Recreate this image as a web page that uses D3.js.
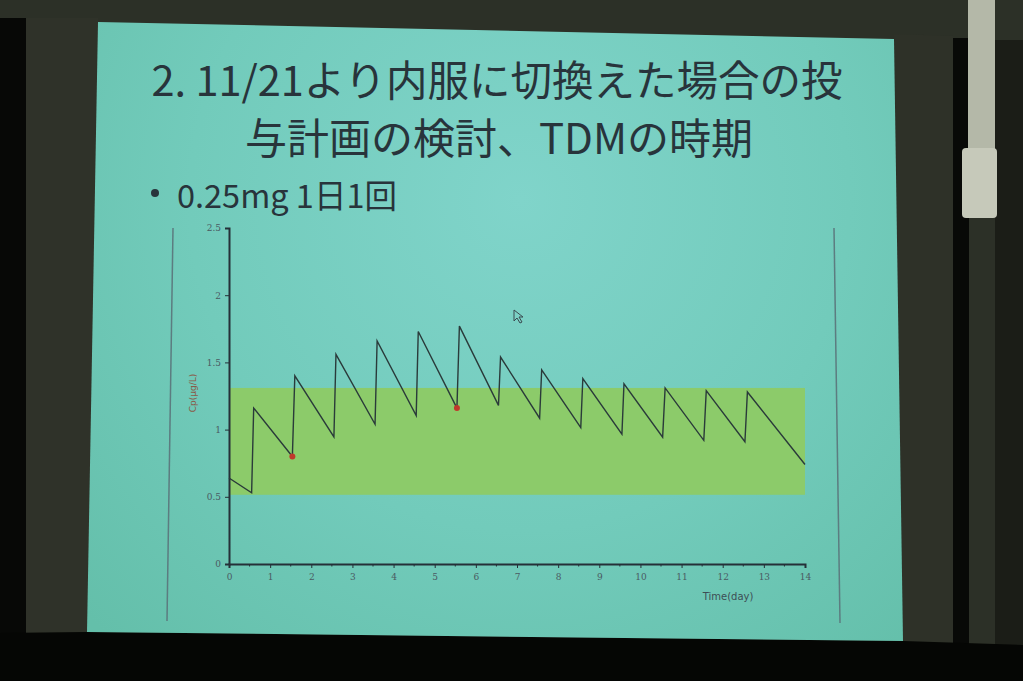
<!DOCTYPE html>
<html><head><meta charset="utf-8">
<script src="https://cdn.jsdelivr.net/npm/d3@7"></script>
<style>html,body{margin:0;padding:0;background:#23261f;}svg{display:block;}</style>
</head><body>
<script>
// ---- data ----
const titleLines = ["2. 11/21より内服に切換えた場合の投", "与計画の検討、TDMの時期"];
const bulletText = "0.25mg 1日1回";
const times = [0, 0.55, 0.6, 1.54, 1.6, 2.55, 2.6, 3.55, 3.6, 4.55, 4.6, 5.54, 5.6, 6.55, 6.6,
               7.55, 7.6, 8.55, 8.6, 9.55, 9.6, 10.54, 10.6, 11.54, 11.6, 12.54, 12.6, 14];
const conc  = [0.64, 0.53, 1.16, 0.80, 1.40, 0.945, 1.56, 1.04, 1.66, 1.105, 1.73, 1.16, 1.77, 1.18, 1.54,
               1.085, 1.445, 1.015, 1.38, 0.966, 1.34, 0.944, 1.31, 0.92, 1.29, 0.91, 1.28, 0.74];
const tdmTimes = [1.54, 5.54];
const tdmConc  = [0.80, 1.16];
const rangeLow = 0.515, rangeHigh = 1.31;
const xTicks = [0,1,2,3,4,5,6,7,8,9,10,11,12,13,14];
const yTicks = [0,0.5,1,1.5,2,2.5];
const xLabel = "Time(day)", yLabel = "Cp(μg/L)";

const W = 1023, H = 681;
const svg = d3.select("body").append("svg").attr("width", W).attr("height", H);
const defs = svg.append("defs");
const rg = defs.append("radialGradient").attr("id","slideGrad")
  .attr("gradientUnits","userSpaceOnUse").attr("cx",520).attr("cy",200).attr("r",600);
rg.append("stop").attr("offset","0%").attr("stop-color","#80d4ca");
rg.append("stop").attr("offset","55%").attr("stop-color","#72cbbb");
rg.append("stop").attr("offset","100%").attr("stop-color","#64bfaa");

// room background
svg.append("rect").attr("width",W).attr("height",H).attr("fill","#2c3027");
svg.append("rect").attr("x",0).attr("y",18).attr("width",26).attr("height",H-18).attr("fill","#070806");
svg.append("polygon").attr("points","26,18 98,18 98,22 87,632 26,633").attr("fill","#2f3229");
svg.append("polygon").attr("points","894,34 953,36 953,642 903,642").attr("fill","#2e3128");
svg.append("rect").attr("x",953).attr("y",38).attr("width",16).attr("height",H-38).attr("fill","#080907");
svg.append("rect").attr("x",995).attr("y",40).attr("width",28).attr("height",H-40).attr("fill","#1b1d17");
svg.append("rect").attr("x",968).attr("y",0).attr("width",27).attr("height",150).attr("fill","#b4b8a8");
svg.append("rect").attr("x",962).attr("y",148).attr("width",35).attr("height",70).attr("rx",4).attr("fill","#c6c9ba");
svg.append("polygon").attr("points","0,633 87,632 903,641 1023,645 1023,681 0,681").attr("fill","#050604");

// slide
svg.append("polygon").attr("points","98,22 894,39 903,641 87,632").attr("fill","url(#slideGrad)");

// title
const txtColor = "#28343b";
const fam = "'Noto Sans CJK JP', 'Noto Sans', sans-serif";
svg.append("g").selectAll("text").data(titleLines).join("text")
  .attr("x", (d,i)=> i===0 ? 497 : 499)
  .attr("y", (d,i)=> i===0 ? 96 : 154)
  .attr("text-anchor","middle")
  .attr("font-family",fam).attr("font-weight",400)
  .attr("font-size", (d,i)=> i===0 ? 41.5 : 42)
  .attr("fill", txtColor)
  .text(d=>d);
svg.append("circle").attr("cx",155).attr("cy",193).attr("r",4).attr("fill",txtColor);
svg.append("text").attr("x",177).attr("y",208)
  .attr("font-family",fam).attr("font-weight",400)
  .attr("font-size",32.5).attr("fill",txtColor).text(bulletText);

// chart frame lines
svg.append("line").attr("x1",173).attr("y1",228).attr("x2",167).attr("y2",621).attr("stroke","#5c7c80").attr("stroke-width",1.5);
svg.append("line").attr("x1",834).attr("y1",228).attr("x2",840).attr("y2",623).attr("stroke","#5c7c80").attr("stroke-width",1.5);

// scales
const x = d3.scaleLinear().domain([0,14]).range([229, 805]);
const y = d3.scaleLinear().domain([0,2.5]).range([564, 228]);

// therapeutic range band
svg.append("rect")
  .attr("x", x(0)).attr("width", x(14)-x(0))
  .attr("y", y(rangeHigh)).attr("height", y(rangeLow)-y(rangeHigh))
  .attr("fill","#8ccb6a");

// axes
const axisColor = "#253038";
const yAxis = svg.append("g").attr("transform",`translate(${x(0)},0)`)
  .call(d3.axisLeft(y).tickValues(yTicks).tickFormat(d3.format("")).tickSize(4).tickPadding(4));
const xAxis = svg.append("g").attr("transform",`translate(0,${y(0)})`)
  .call(d3.axisBottom(x).tickValues(xTicks).tickFormat(d3.format("d")).tickSize(4).tickPadding(6));
[yAxis, xAxis].forEach(g=>{
  g.select(".domain").attr("stroke",axisColor).attr("stroke-width",2);
  g.selectAll(".tick line").attr("stroke",axisColor);
  g.selectAll(".tick text").attr("fill","#4a5a62").attr("font-size",9)
    .attr("font-family","'DejaVu Serif', serif");
});
// minor ticks on x axis
svg.append("g").selectAll("line").data(d3.range(0.5,14,1)).join("line")
  .attr("x1",d=>x(d)).attr("x2",d=>x(d)).attr("y1",y(0)).attr("y2",y(0)+2.5)
  .attr("stroke",axisColor);

svg.append("text").attr("transform",`translate(196,393) rotate(-90)`)
  .attr("text-anchor","middle").attr("font-size",9)
  .attr("font-family","'DejaVu Sans', sans-serif").attr("fill","#8a5a48").text(yLabel);
svg.append("text").attr("x",728).attr("y",600).attr("text-anchor","middle").attr("font-size",10)
  .attr("font-family","'DejaVu Sans', sans-serif").attr("fill","#3d4d55").text(xLabel);

// concentration curve
const pts = times.map((t,i)=>[t, conc[i]]);
svg.append("path").datum(pts)
  .attr("d", d3.line().x(d=>x(d[0])).y(d=>y(d[1])))
  .attr("fill","none").attr("stroke","#2a3a3a").attr("stroke-width",1.4);

// TDM points
svg.append("g").selectAll("circle").data(tdmTimes.map((t,i)=>[t, tdmConc[i]])).join("circle")
  .attr("cx",d=>x(d[0])).attr("cy",d=>y(d[1])).attr("r",3).attr("fill","#c0392b");

// mouse cursor
svg.append("path").attr("d","M514,310 L514,321 L517,318 L520,323 L522,322 L519,317 L523,317 Z")
  .attr("fill","none").attr("stroke","#3a4a50").attr("stroke-width",1);
</script>
</body></html>
